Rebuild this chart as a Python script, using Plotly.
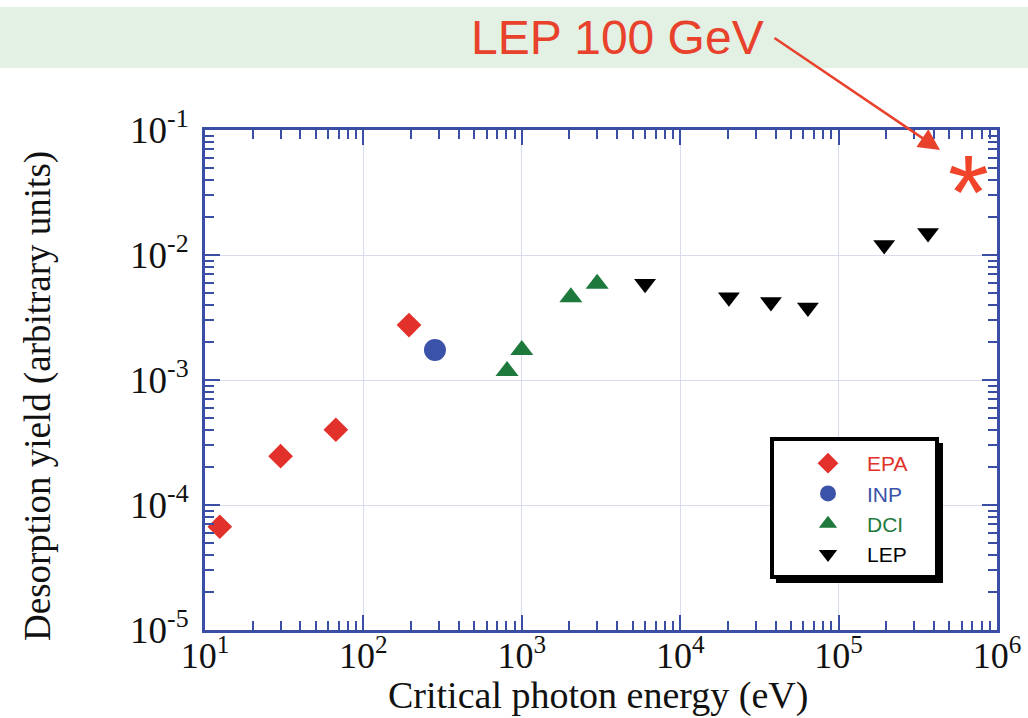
import math
import plotly.graph_objects as go

# ---- data ----
epa_x = [12.4, 30, 67, 194]
epa_y = [6.7e-5, 2.46e-4, 4.0e-4, 2.75e-3]
inp_x = [283]
inp_y = [1.74e-3]
dci_x = [807, 1000, 2040, 2990]
dci_y = [1.18e-3, 1.74e-3, 4.6e-3, 5.9e-3]
lep_x = [6000, 20300, 37400, 64000, 194000, 367000]
lep_y = [5.9e-3, 4.6e-3, 4.2e-3, 3.8e-3, 0.012, 0.015]
lep100_x = [665000]
lep100_y = [0.041]

x_tick_exp = [1, 2, 3, 4, 5, 6]
y_tick_exp = [-5, -4, -3, -2, -1]

AXIS = "#3b4ea6"
GRID = "#d9dbf1"
RED = "#e2312a"
BLUE = "#3a52a8"
GREEN = "#1e7a3c"
SERIF = "Liberation Serif"
SANS = "Liberation Sans"

x_major = [10.0 ** e for e in x_tick_exp]
y_major = [10.0 ** e for e in y_tick_exp]
x_minor = [m * 10.0 ** e for e in x_tick_exp[:-1] for m in range(2, 10)]
y_minor = [m * 10.0 ** e for e in y_tick_exp[:-1] for m in range(2, 10)]

fig = go.Figure()

def lbl(name, color):
    return f"<span style='color:{color}'>{name}</span>"

fig.add_trace(go.Scatter(x=epa_x, y=epa_y, mode="markers", name=lbl("EPA", RED),
                         marker=dict(symbol="diamond", size=19, color=RED)))
fig.add_trace(go.Scatter(x=inp_x, y=inp_y, mode="markers", name=lbl("INP", BLUE),
                         marker=dict(symbol="circle", size=22, color=BLUE)))
fig.add_trace(go.Scatter(x=dci_x, y=dci_y, mode="markers", name=lbl("DCI", GREEN),
                         marker=dict(symbol="triangle-up", size=20, color=GREEN)))
fig.add_trace(go.Scatter(x=lep_x, y=lep_y, mode="markers", name=lbl("LEP", "#000000"),
                         marker=dict(symbol="triangle-down", size=19, color="#000000")))

axis_common = dict(
    type="log", showline=True, linecolor=AXIS, linewidth=3, mirror="ticks",
    ticks="inside", ticklen=15, tickwidth=2, tickcolor=AXIS, automargin=False,
    showgrid=True, gridcolor=GRID, gridwidth=1, zeroline=False,
)

fig.update_xaxes(
    range=[1, 6], tickmode="array", tickvals=x_major,
    ticktext=[f"10<sup>{e}</sup>" for e in x_tick_exp],
    minor=dict(tickmode="array", tickvals=x_minor, ticks="inside", ticklen=9,
               tickwidth=2, tickcolor=AXIS, showgrid=False),
    tickfont=dict(family=SERIF, size=36, color="#111111"),
    ticklabelstandoff=-8,
    **axis_common)
fig.update_yaxes(
    range=[-5, -1], tickmode="array", tickvals=y_major,
    ticktext=[f"10<sup>{e}</sup>" for e in y_tick_exp],
    minor=dict(tickmode="array", tickvals=y_minor, ticks="inside", ticklen=9,
               tickwidth=2, tickcolor=AXIS, showgrid=False),
    tickfont=dict(family=SERIF, size=37, color="#111111"),
    ticklabelstandoff=6,
    **axis_common)

W, H = 1028, 718
L, R, T, B = 205, 31, 130, 88
pw, ph = W - L - R, H - T - B

def px(x):
    return (x - L) / pw

def py(y):
    return (H - B - y) / ph

shapes = [
    # green banner at top
    dict(type="rect", xref="paper", yref="paper", x0=px(0), x1=px(W), y0=py(68), y1=py(7),
         fillcolor="#e3f1e4", line=dict(width=0), layer="below"),
    # legend shadow
    dict(type="rect", xref="paper", yref="paper", x0=px(776), x1=px(943), y0=py(583), y1=py(443),
         fillcolor="#000000", line=dict(width=0), layer="above"),
    # legend box
    dict(type="rect", xref="paper", yref="paper", x0=px(772), x1=px(937), y0=py(577), y1=py(439),
         fillcolor="#ffffff", line=dict(color="#000000", width=4), layer="above"),
]

annotations = [
    dict(text="Desorption yield (arbitrary units)", xref="paper", yref="paper",
         x=px(38), y=py(396), showarrow=False, textangle=-90,
         font=dict(family=SERIF, size=37, color="#111111"), xanchor="center", yanchor="middle"),
    dict(text="Critical photon energy (eV)", xref="paper", yref="paper",
         x=px(598), y=py(695), showarrow=False,
         font=dict(family=SERIF, size=38, color="#111111"), xanchor="center", yanchor="middle"),
    dict(text="LEP 100 GeV", xref="paper", yref="paper", x=px(617), y=py(37), showarrow=False,
         font=dict(family=SANS, size=48, color="#e8412c"), xanchor="center", yanchor="middle"),
    dict(text="", xref="paper", yref="paper", x=px(940), y=py(150), showarrow=True,
         ax=773 - 940, ay=37 - 150, arrowcolor="#e8412c", arrowwidth=2.5, arrowhead=2,
         arrowsize=1.7, standoff=0, startstandoff=0),
    # LEP 100 GeV asterisk mark, placed on the data axes
    dict(text="*", xref="x", yref="y", x=math.log10(lep100_x[0]), y=math.log10(lep100_y[0]),
         showarrow=False, xanchor="center", yanchor="middle", yshift=-14,
         font=dict(family=SANS, size=105, color="#f0452a")),
]

fig.update_layout(
    width=W, height=H, margin=dict(l=L, r=R, t=T, b=B),
    paper_bgcolor="white", plot_bgcolor="white",
    shapes=shapes, annotations=annotations,
    legend=dict(x=px(789), y=py(443), xanchor="left", yanchor="top",
                bgcolor="rgba(0,0,0,0)", borderwidth=0,
                font=dict(family=SANS, size=21, color="#000000"),
                itemwidth=68, tracegroupgap=0),
    showlegend=True,
)

fig.write_html("out.html", config={"displayModeBar": False},
               post_script="document.body.style.margin='0';document.body.style.overflow='hidden';")
